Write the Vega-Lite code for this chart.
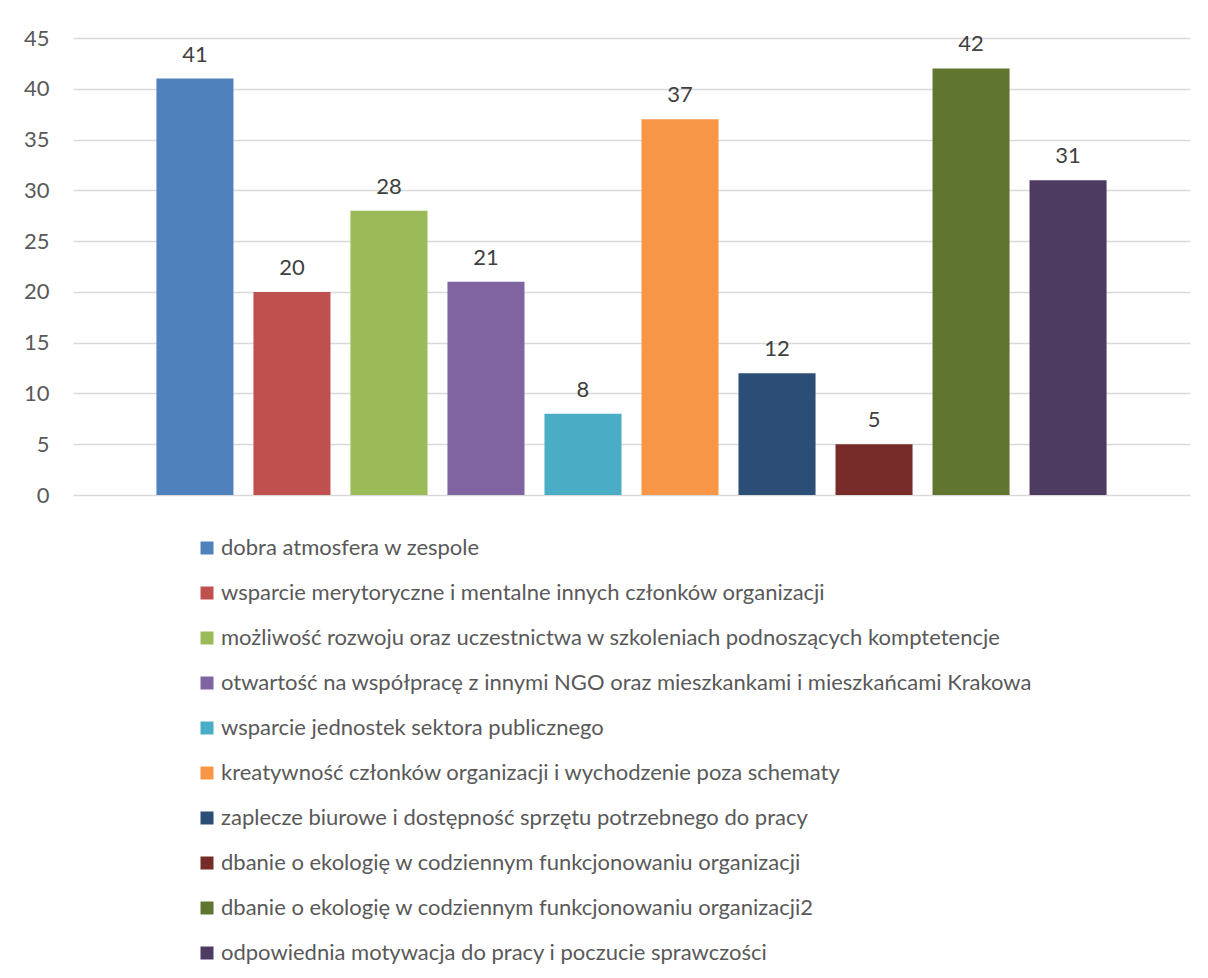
{
  "$schema": "https://vega.github.io/schema/vega-lite/v6.json",
  "autosize": {"type": "none"},
  "width": 1117,
  "height": 457,
  "padding": {"left": 73, "top": 38, "right": 18, "bottom": 483},
  "background": "white",
  "data": {
    "values": [
      {"name": "dobra atmosfera w zespole", "value": 41},
      {"name": "wsparcie merytoryczne i mentalne innych członków organizacji", "value": 20},
      {"name": "możliwość rozwoju oraz uczestnictwa w szkoleniach podnoszących komptetencje", "value": 28},
      {"name": "otwartość na współpracę z innymi NGO oraz mieszkankami i mieszkańcami Krakowa", "value": 21},
      {"name": "wsparcie jednostek sektora publicznego", "value": 8},
      {"name": "kreatywność członków organizacji i wychodzenie poza schematy", "value": 37},
      {"name": "zaplecze biurowe i dostępność sprzętu potrzebnego do pracy", "value": 12},
      {"name": "dbanie o ekologię w codziennym funkcjonowaniu organizacji", "value": 5},
      {"name": "dbanie o ekologię w codziennym funkcjonowaniu organizacji2", "value": 42},
      {"name": "odpowiednia motywacja do pracy i poczucie sprawczości", "value": 31}
    ]
  },
  "encoding": {
    "x": {
      "field": "name",
      "type": "nominal",
      "sort": null,
      "scale": {"paddingInner": 0.206, "paddingOuter": 0.86},
      "axis": null
    },
    "y": {
      "field": "value",
      "type": "quantitative",
      "scale": {"domain": [0, 45], "nice": false},
      "axis": {
        "title": null,
        "values": [0, 5, 10, 15, 20, 25, 30, 35, 40, 45],
        "domain": false,
        "ticks": false,
        "grid": true,
        "gridColor": "#d9d9d9",
        "gridWidth": 1.5,
        "labelFont": "Lato",
        "labelFontSize": 22,
        "labelColor": "#595959",
        "labelPadding": 24
      }
    }
  },
  "layer": [
    {
      "mark": {"type": "bar"},
      "encoding": {
        "color": {
          "field": "name",
          "type": "nominal",
          "sort": null,
          "scale": {
            "domain": [
              "dobra atmosfera w zespole",
              "wsparcie merytoryczne i mentalne innych członków organizacji",
              "możliwość rozwoju oraz uczestnictwa w szkoleniach podnoszących komptetencje",
              "otwartość na współpracę z innymi NGO oraz mieszkankami i mieszkańcami Krakowa",
              "wsparcie jednostek sektora publicznego",
              "kreatywność członków organizacji i wychodzenie poza schematy",
              "zaplecze biurowe i dostępność sprzętu potrzebnego do pracy",
              "dbanie o ekologię w codziennym funkcjonowaniu organizacji",
              "dbanie o ekologię w codziennym funkcjonowaniu organizacji2",
              "odpowiednia motywacja do pracy i poczucie sprawczości"
            ],
            "range": ["#4F81BD", "#C0504D", "#9BBB59", "#8064A2", "#4BACC6", "#F79646", "#2C4D75", "#772C2A", "#5F7530", "#4D3B62"]
          },
          "legend": {
            "title": null,
            "orient": "none",
            "legendX": 123,
            "legendY": 499,
            "direction": "vertical",
            "padding": 0,
            "symbolType": "square",
            "symbolSize": 169,
            "symbolStrokeWidth": 0,
            "symbolOpacity": 1,
            "labelFont": "Lato",
            "labelFontSize": 22,
            "labelColor": "#595959",
            "labelOffset": 3,
            "labelLimit": 1000,
            "rowPadding": 23
          }
        }
      }
    },
    {
      "mark": {"type": "text", "baseline": "alphabetic", "dy": -17, "font": "Lato", "fontSize": 22, "color": "#404040"},
      "encoding": {"text": {"field": "value", "type": "quantitative"}}
    }
  ],
  "config": {"view": {"stroke": null}}
}
